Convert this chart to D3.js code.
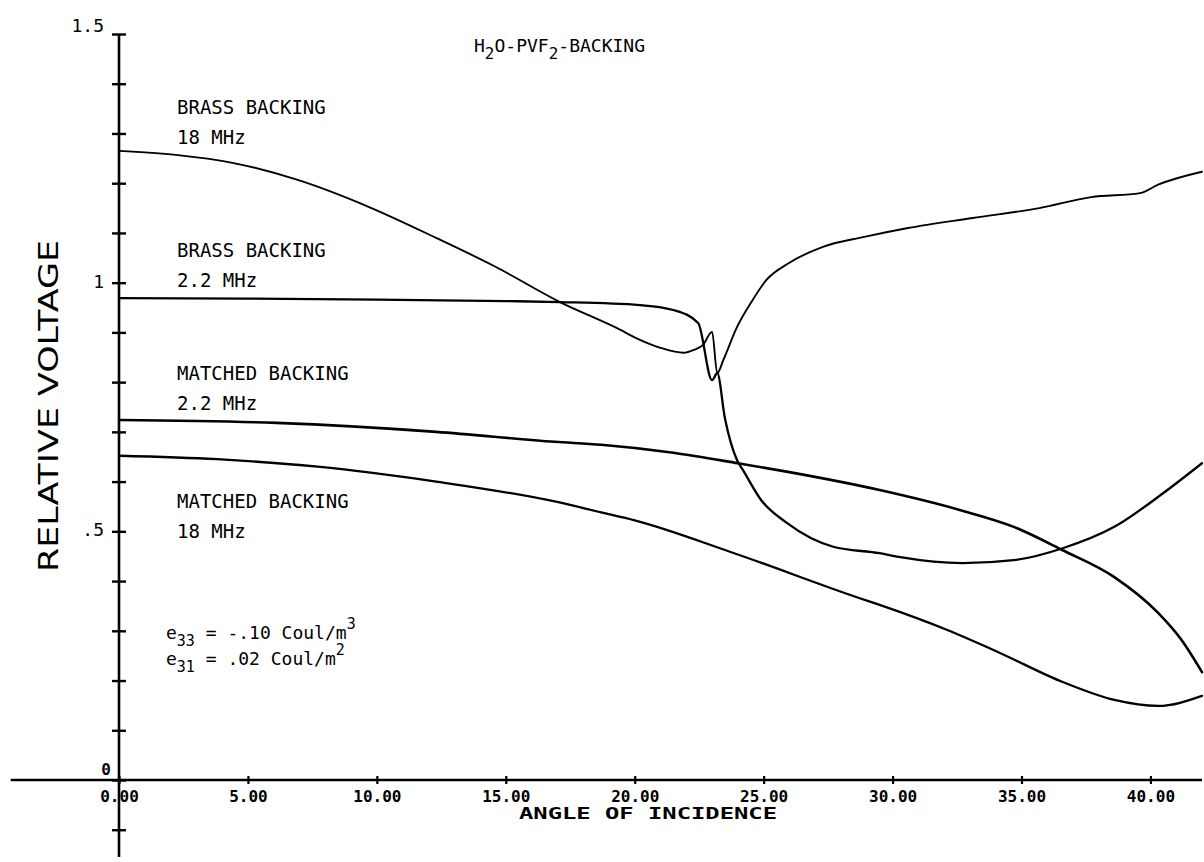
<!DOCTYPE html>
<html>
<head>
<meta charset="utf-8">
<script src="https://cdn.jsdelivr.net/npm/d3@7"></script>
<style>
  html, body { margin: 0; padding: 0; background: #fff; }
  svg { display: block; }
</style>
</head>
<body>
<svg id="chart" width="1204" height="862"></svg>
<script>
// ---------------- DATA ----------------
const xTickValues = [0, 5, 10, 15, 20, 25, 30, 35, 40];
const xTickLabels = ["0.00", "5.00", "10.00", "15.00", "20.00", "25.00", "30.00", "35.00", "40.00"];
const yTickValues = [-0.1, 0, 0.1, 0.2, 0.3, 0.4, 0.5, 0.6, 0.7, 0.8, 0.9, 1.0, 1.1, 1.2, 1.3, 1.4, 1.5];
const yLabelValues = [1.5, 1.0, 0.5];
const yLabelTexts = ["1.5", "1", ".5"];

const brass18X = [0, 2.2, 4.4, 6.9, 9.7, 12.3, 14.6, 17.1, 19.3, 20.2, 21.0, 21.9, 22.3, 22.65, 23.0, 23.2, 23.44, 23.97, 24.5, 25.1, 26.0, 27.3, 28.9, 30.6, 33.1, 35.7, 37.7, 39.6, 40.3, 42.0];
const brass18Y = [1.265, 1.257, 1.241, 1.207, 1.152, 1.09, 1.032, 0.961, 0.909, 0.885, 0.869, 0.859, 0.865, 0.875, 0.901, 0.818, 0.845, 0.911, 0.959, 1.005, 1.04, 1.072, 1.092, 1.11, 1.13, 1.15, 1.172, 1.18, 1.197, 1.223];

const brass22X = [0, 5, 10, 15, 17.1, 20.2, 21.5, 22.46, 23.0, 23.2, 23.5, 23.97, 24.2, 24.9, 25.9, 27.7, 29.5, 30.3, 32.7, 34.7, 36.6, 38.6, 40.5, 42.0];
const brass22Y = [0.969, 0.968, 0.966, 0.963, 0.961, 0.955, 0.945, 0.919, 0.804, 0.818, 0.727, 0.643, 0.623, 0.563, 0.517, 0.469, 0.456, 0.448, 0.436, 0.442, 0.466, 0.509, 0.577, 0.637];

const matched22X = [0, 6.1, 12.3, 16.9, 18.7, 21.5, 24.0, 26.0, 29.5, 32.6, 34.7, 36.6, 38.6, 40.3, 41.2, 42.0];
const matched22Y = [0.724, 0.718, 0.700, 0.680, 0.674, 0.658, 0.637, 0.619, 0.583, 0.543, 0.509, 0.462, 0.408, 0.336, 0.282, 0.217];

const matched18X = [0, 3.8, 7.7, 12.3, 16.9, 18.7, 20.0, 23.8, 28.7, 29.5, 32.1, 34.1, 36.6, 38.6, 40.3, 42.0];
const matched18Y = [0.652, 0.645, 0.630, 0.600, 0.560, 0.538, 0.522, 0.457, 0.366, 0.352, 0.302, 0.257, 0.197, 0.161, 0.149, 0.169];

const curveLabels = [
  ["BRASS BACKING", "18 MHz", 1.34],
  ["BRASS BACKING", "2.2 MHz", 1.052],
  ["MATCHED BACKING", "2.2 MHz", 0.804],
  ["MATCHED BACKING", "18 MHz", 0.546]
];

// ---------------- LAYOUT ----------------
const svg = d3.select("#chart");
const x = d3.scaleLinear().domain([0, 42]).range([119, 1202]);
const y = d3.scaleLinear().domain([0, 1.5]).range([780, 34]);

const mono = "'DejaVu Sans Mono', monospace";

// x axis
const xAxis = d3.axisBottom(x).tickValues(xTickValues).tickSize(0).tickFormat((d, i) => xTickLabels[i]);
const gx = svg.append("g").attr("transform", `translate(0,${y(0)})`).call(xAxis);
gx.select(".domain").remove();
gx.append("line").attr("x1", x(-4.2)).attr("x2", x(42)).attr("y1", 0).attr("y2", 0)
  .attr("stroke", "#000").attr("stroke-width", 2.6);
gx.selectAll(".tick line").attr("y1", -4).attr("y2", 4).attr("stroke", "#000").attr("stroke-width", 2.2);
gx.selectAll(".tick text").attr("y", 22).attr("dy", 0)
  .attr("font-family", mono).attr("font-weight", "bold").attr("font-size", 16).attr("fill", "#000");

// y axis
const yAxis = d3.axisLeft(y).tickValues(yTickValues).tickSize(0).tickFormat("");
const gy = svg.append("g").attr("transform", `translate(${x(0)},0)`).call(yAxis);
gy.select(".domain").remove();
gy.append("line").attr("x1", 0).attr("x2", 0).attr("y1", y(1.5)).attr("y2", y(-0.155))
  .attr("stroke", "#000").attr("stroke-width", 2.6);
gy.selectAll(".tick line").attr("x1", -7).attr("x2", 7).attr("stroke", "#000").attr("stroke-width", 2.4);

// y labels
svg.append("g").selectAll("text").data(yLabelValues).join("text")
  .attr("x", 104).attr("y", (d, i) => y(d) + (i === 0 ? -2 : 5))
  .attr("text-anchor", "end")
  .attr("font-family", mono).attr("font-size", 18)
  .text((d, i) => yLabelTexts[i]);
svg.append("text").attr("x", 111).attr("y", y(0) - 5).attr("text-anchor", "end")
  .attr("font-family", mono).attr("font-weight", "bold").attr("font-size", 16).text("0");

// axis titles
svg.append("text").attr("transform", `translate(58,${(240 + 572) / 2}) rotate(-90)`)
  .attr("text-anchor", "middle").attr("font-family", "'DejaVu Sans', sans-serif")
  .attr("font-size", 26).attr("textLength", 332).attr("lengthAdjust", "spacingAndGlyphs")
  .attr("fill", "#000")
  .text("RELATIVE VOLTAGE");
svg.append("text").attr("x", (519 + 777) / 2).attr("y", 819).attr("text-anchor", "middle")
  .attr("font-family", mono).attr("font-weight", "bold").attr("font-size", 15)
  .attr("textLength", 258).attr("lengthAdjust", "spacingAndGlyphs")
  .text("ANGLE OF INCIDENCE");

// title
const title = svg.append("text").attr("x", 474).attr("y", 52)
  .attr("font-family", mono).attr("font-size", 18);
title.append("tspan").text("H");
title.append("tspan").attr("dy", 7).attr("font-size", 16).text("2");
title.append("tspan").attr("dy", -7).text("O-PVF");
title.append("tspan").attr("dy", 7).attr("font-size", 16).text("2");
title.append("tspan").attr("dy", -7).text("-BACKING");

// curve labels
const lab = svg.append("g").attr("font-family", mono).attr("font-size", 19).attr("fill", "#000");
curveLabels.forEach(([a, b, v]) => {
  lab.append("text").attr("x", 177).attr("y", y(v)).text(a);
  lab.append("text").attr("x", 177).attr("y", y(v) + 30).text(b);
});

// constants annotation
const ann = svg.append("g").attr("font-family", mono).attr("font-size", 18).attr("fill", "#000");
const l1 = ann.append("text").attr("x", 166).attr("y", 639);
l1.append("tspan").text("e");
l1.append("tspan").attr("dy", 7).attr("font-size", 15).text("33");
l1.append("tspan").attr("dy", -7).text(" = -.10 Coul/m");
l1.append("tspan").attr("dy", -10).attr("font-size", 15).text("3");
const l2 = ann.append("text").attr("x", 166).attr("y", 665);
l2.append("tspan").text("e");
l2.append("tspan").attr("dy", 7).attr("font-size", 15).text("31");
l2.append("tspan").attr("dy", -7).text(" = .02 Coul/m");
l2.append("tspan").attr("dy", -10).attr("font-size", 15).text("2");

// curves
const line = d3.line().x(d => x(d[0])).y(d => y(d[1])).curve(d3.curveMonotoneX);
const series = [
  [brass18X, brass18Y, 1.9],
  [brass22X, brass22Y, 2.3],
  [matched22X, matched22Y, 2.6],
  [matched18X, matched18Y, 2.3]
];
svg.append("g").selectAll("path").data(series).join("path")
  .attr("d", s => line(s[0].map((v, i) => [v, s[1][i]])))
  .attr("fill", "none").attr("stroke", "#000").attr("stroke-width", s => s[2])
  .attr("stroke-linejoin", "round").attr("stroke-linecap", "round");
</script>
</body>
</html>
